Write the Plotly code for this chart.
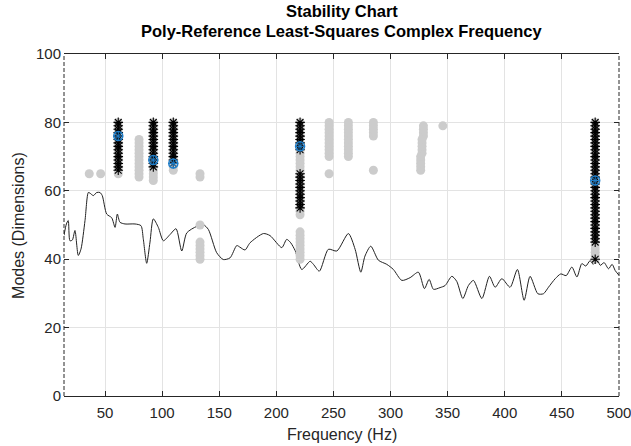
import plotly.graph_objects as go

# frequency response curve drawn in "mode" units
curve_f = [14.1, 16.2, 17.8, 19.3, 21.4, 23.7, 26.6, 29.0, 32.5, 35.4, 36.9, 39.8, 42.7, 45.6, 47.6,
           51.5, 55.9, 58.8, 60.8, 63.1, 67.5, 76.3, 81.5, 83.5, 86.5, 89.4, 92.3, 96.7, 101.1, 106.9,
           112.2, 117.2, 121.6, 130.3, 136.1, 140.5, 147.8, 153.6, 159.5, 165.4, 168.2, 172.6, 177.0,
           188.7, 194.5, 204.8, 209.1, 212.6, 216.5, 222.3, 229.6, 232.5, 237.7, 245.6, 253.0, 263.1,
           269.0, 274.0, 277.6, 282.7, 289.4, 296.7, 302.5, 309.9, 317.1, 324.4, 329.7, 333.8, 337.6,
           343.4, 347.8, 353.7, 358.0, 363.3, 368.2, 372.6, 380.0, 386.6, 391.6, 397.5, 404.7, 411.1,
           417.0, 422.2, 429.0, 433.9, 438.3, 444.2, 449.1, 453.8, 458.8, 463.2, 467.5, 471.0, 474.8,
           477.5, 480.7, 483.6, 487.0, 490.9, 494.0, 496.7, 500.0]
curve_v = [47.0, 50.3, 51.3, 45.4, 45.6, 48.4, 41.1, 43.0, 51.3, 59.5, 59.3, 58.6, 59.5, 59.5, 58.6,
           53.2, 52.1, 49.3, 53.2, 50.8, 50.3, 50.3, 49.8, 46.0, 38.8, 45.0, 51.8, 49.3, 45.4, 47.2,
           48.9, 42.4, 47.7, 49.6, 50.1, 48.7, 41.9, 39.9, 40.4, 44.0, 43.5, 42.7, 44.8,
           47.5, 46.9, 43.4, 45.8, 44.8, 42.5, 37.0, 39.4, 38.5, 36.5, 42.9, 42.4, 47.5,
           42.9, 36.2, 40.9, 43.8, 39.7, 38.5, 37.0, 33.8, 34.6, 36.2, 31.4, 34.1, 31.2,
           31.7, 32.3, 35.0, 33.5, 28.5, 32.3, 33.8, 28.5, 35.0, 31.8, 34.3, 31.8, 37.0,
           28.0, 35.0, 29.9, 29.9, 31.8, 34.3, 35.7, 35.2, 37.7, 34.8, 38.7, 38.0, 39.6,
           38.5, 40.1, 38.2, 39.0, 37.2, 38.5, 36.7, 35.3]
assert len(curve_f) == len(curve_v)

# unstable poles: frequency and model-order span of each column
gray_freq = [36.2, 46.2, 61.6, 79.8, 92.3, 109.8, 133.2, 133.2, 133.2, 220.8, 220.8,
             246.2, 246.2, 263.1, 285.0, 285.0, 328.8, 327.6, 326.4, 345.8, 479.2]
gray_lo = [65, 65, 65, 64, 63, 66, 64, 50, 40, 40, 53, 70, 65, 70, 76, 66, 76, 71, 66, 79, 40]
gray_hi = [65, 65, 80, 75, 80, 80, 65, 50, 45, 48, 80, 80, 65, 80, 80, 66, 79, 75, 70, 79, 80]

# stable poles
stable_freq = [61.6, 92.3, 109.8, 220.8, 220.8, 479.2, 479.2]
stable_lo = [66, 67, 68, 72, 55, 45, 40]
stable_hi = [80, 80, 80, 80, 65, 80, 40]

# selected modes
sel_freq = [61.6, 92.3, 109.8, 220.8, 479.2]
sel_order = [76, 69, 68, 73, 63]

x_ticks = [50, 100, 150, 200, 250, 300, 350, 400, 450, 500]
y_ticks = [0, 20, 40, 60, 80, 100]


def expand(freqs, los, his):
    xs, ys = [], []
    for f, lo, hi in zip(freqs, los, his):
        for n in range(lo, hi + 1):
            xs.append(f)
            ys.append(n)
    return xs, ys


gx, gy = expand(gray_freq, gray_lo, gray_hi)
sx, sy = expand(stable_freq, stable_lo, stable_hi)

FONT = "Liberation Sans, Arial, Helvetica, sans-serif"
DARK = "#262626"

fig = go.Figure()
fig.add_trace(go.Scatter(x=curve_f, y=curve_v, mode="lines",
                         line=dict(color="#222222", width=1, shape="spline", smoothing=0.7)))
fig.add_trace(go.Scatter(x=gx, y=gy, mode="markers",
                         marker=dict(symbol="circle", size=9, color="#CCCCCC", line=dict(width=0))))
fig.add_trace(go.Scatter(x=sx, y=sy, mode="markers",
                         marker=dict(symbol="asterisk-open", size=8, color="black",
                                     line=dict(color="black", width=1.1))))
fig.add_trace(go.Scatter(x=sel_freq, y=sel_order, mode="markers",
                         marker=dict(symbol="circle-open", size=9, color="#1F7FCB",
                                     line=dict(color="#1F7FCB", width=1.5))))
fig.add_trace(go.Scatter(x=sel_freq, y=sel_order, mode="markers",
                         marker=dict(symbol="asterisk-open", size=8, color="#1F7FCB",
                                     line=dict(color="#1F7FCB", width=1))))

fig.update_xaxes(range=[14.1, 500.05], tickvals=x_ticks, ticks="inside", ticklen=5, tickcolor=DARK,
                 showline=True, linecolor=DARK, linewidth=1, mirror="ticks", automargin=False,
                 showgrid=True, gridcolor="#E3E3E3", gridwidth=1, zeroline=False,
                 ticklabelstandoff=3, ticklabeloverflow="allow",
                 tickfont=dict(family=FONT, size=15, color=DARK))
fig.update_yaxes(range=[0, 100], tickvals=y_ticks, ticks="inside", ticklen=5, tickcolor=DARK,
                 showline=False, mirror="ticks", automargin=False,
                 showgrid=True, gridcolor="#E3E3E3", gridwidth=1, zeroline=False,
                 ticklabelstandoff=2,
                 tickfont=dict(family=FONT, size=15, color=DARK))

# left / right borders appear dashed in the reference
for xp in (0, 1):
    fig.add_shape(type="line", xref="paper", yref="paper", x0=xp, x1=xp, y0=0, y1=1,
                  line=dict(color=DARK, width=1, dash="4px,2px"))

# axis titles
fig.add_annotation(text="Frequency (Hz)", xref="paper", yref="paper", x=0.5, y=-0.114,
                   showarrow=False, yanchor="middle", font=dict(family=FONT, size=16, color=DARK))
fig.add_annotation(text="Modes (Dimensions)", xref="paper", yref="paper", x=-0.083, y=0.5,
                   showarrow=False, textangle=-90, xanchor="center", yanchor="middle",
                   font=dict(family=FONT, size=16, color=DARK))

# two-line bold title
fig.add_annotation(text="<b>Stability Chart</b>", xref="paper", yref="paper", x=0.5, y=1.126,
                   showarrow=False, yanchor="middle", font=dict(family=FONT, size=16.5, color="black"))
fig.add_annotation(text="<b>Poly-Reference Least-Squares Complex Frequency</b>", xref="paper",
                   yref="paper", x=0.5, y=1.068, showarrow=False, yanchor="middle",
                   font=dict(family=FONT, size=16.5, color="black"))

fig.update_layout(width=631, height=446, margin=dict(l=64, r=12, t=54, b=50),
                  paper_bgcolor="white", plot_bgcolor="white", showlegend=False)

# drop the browser's default 8px page margin so the figure fills the window
fig.write_html("out.html", config={"displayModeBar": False},
               post_script="document.body.style.margin='0';")
